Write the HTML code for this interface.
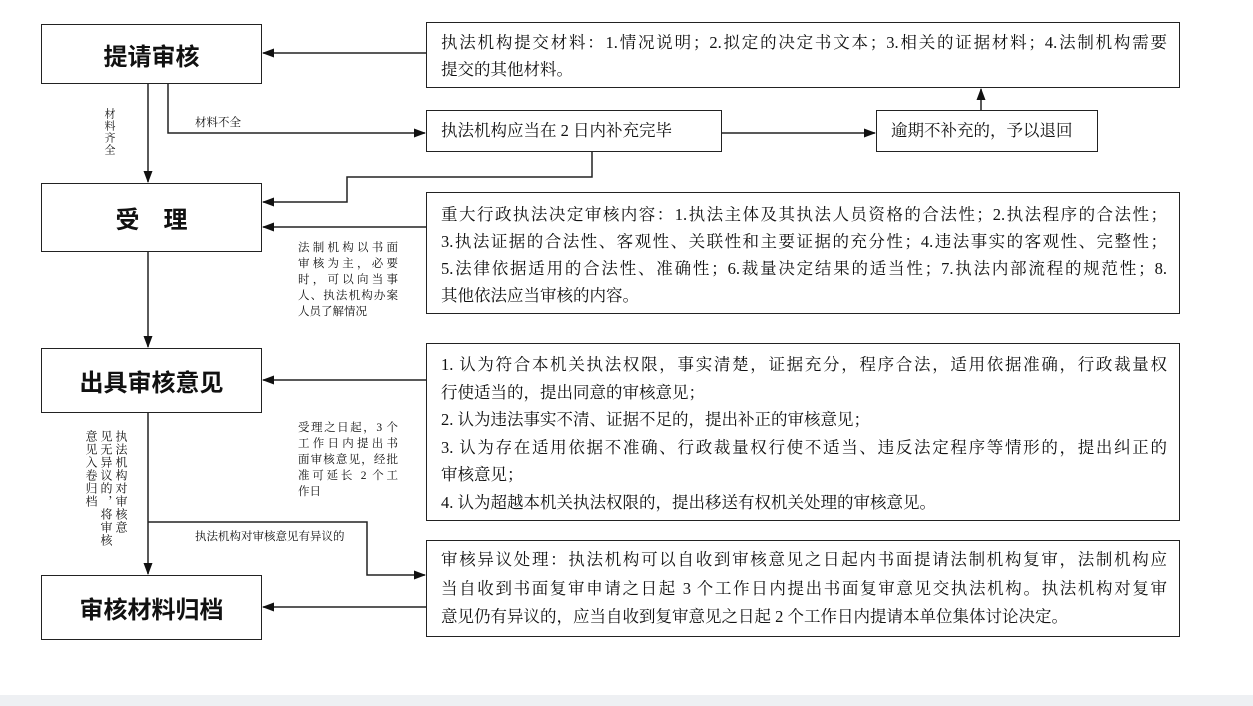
<!DOCTYPE html>
<html><head><meta charset="utf-8"><style>
body{margin:0;width:1253px;height:706px;background:#fff;position:relative;overflow:hidden;font-family:"Liberation Serif","Noto Serif CJK SC",serif;color:#111}
.b{position:absolute;border:1.5px solid #222;box-sizing:border-box;background:#fff}
.big{display:flex;align-items:center;justify-content:center;font-family:"Liberation Sans","Noto Sans CJK SC",sans-serif;font-weight:bold;font-size:24px}
.t{font-size:16.5px;line-height:27px;padding:6px 12px 4px 14px}
.t div{white-space:nowrap;text-align:justify;text-align-last:justify}
.t div.l{text-align-last:left}
.s{position:absolute;font-size:11.5px;line-height:16px}
.s div{text-align:justify;text-align-last:justify;white-space:nowrap}
.s div.l{text-align-last:left}
.v{position:absolute;font-size:12px;writing-mode:vertical-rl;line-height:15px;letter-spacing:1px;white-space:nowrap}
svg{position:absolute;left:0;top:0}
</style></head><body>
<div style="position:absolute;left:0;top:695px;width:1253px;height:11px;background:#eef0f3"></div>
<svg width="1253" height="706">
<defs><marker id="a" markerWidth="12" markerHeight="9" refX="11" refY="4.5" orient="auto" markerUnits="userSpaceOnUse"><path d="M0,0L12,4.5L0,9z" fill="#111"/></marker></defs>
<g stroke="#222" stroke-width="1.5" fill="none">
<line x1="148" y1="84" x2="148" y2="182" marker-end="url(#a)"/>
<line x1="148" y1="252" x2="148" y2="347" marker-end="url(#a)"/>
<line x1="148" y1="413" x2="148" y2="574" marker-end="url(#a)"/>
<polyline points="168,84 168,133 425,133" marker-end="url(#a)"/>
<line x1="722" y1="133" x2="875" y2="133" marker-end="url(#a)"/>
<line x1="981" y1="110" x2="981" y2="89" marker-end="url(#a)"/>
<polyline points="592,152 592,177 347,177 347,202 263,202" marker-end="url(#a)"/>
<line x1="426" y1="53" x2="263" y2="53" marker-end="url(#a)"/>
<line x1="426" y1="227" x2="263" y2="227" marker-end="url(#a)"/>
<line x1="426" y1="380" x2="263" y2="380" marker-end="url(#a)"/>
<line x1="426" y1="607" x2="263" y2="607" marker-end="url(#a)"/>
<polyline points="148,522 367,522 367,575 425,575" marker-end="url(#a)"/>
</g></svg>
<div class="b big" style="left:41px;top:24px;width:221px;height:60px">提请审核</div>
<div class="b big" style="left:41px;top:183px;width:221px;height:69px">受　理</div>
<div class="b big" style="left:41px;top:348px;width:221px;height:65px">出具审核意见</div>
<div class="b big" style="left:41px;top:575px;width:221px;height:65px">审核材料归档</div>
<div class="b t" style="left:426px;top:22px;width:754px;height:66px;padding-top:6px"><div>执法机构提交材料：1.情况说明；2.拟定的决定书文本；3.相关的证据材料；4.法制机构需要</div><div class="l">提交的其他材料。</div></div>
<div class="b t" style="left:426px;top:110px;width:296px;height:42px;padding-top:6px"><div class="l">执法机构应当在 2 日内补充完毕</div></div>
<div class="b t" style="left:876px;top:110px;width:222px;height:42px;padding-top:6px"><div class="l">逾期不补充的，予以退回</div></div>
<div class="b t" style="left:426px;top:192px;width:754px;height:122px;padding-top:8px"><div>重大行政执法决定审核内容：1.执法主体及其执法人员资格的合法性；2.执法程序的合法性；</div><div>3.执法证据的合法性、客观性、关联性和主要证据的充分性；4.违法事实的客观性、完整性；</div><div>5.法律依据适用的合法性、准确性；6.裁量决定结果的适当性；7.执法内部流程的规范性；8.</div><div class="l">其他依法应当审核的内容。</div></div>
<div class="b t" style="left:426px;top:343px;width:754px;height:178px;line-height:27.5px;padding-top:7px"><div>1. 认为符合本机关执法权限，事实清楚，证据充分，程序合法，适用依据准确，行政裁量权</div><div class="l">行使适当的，提出同意的审核意见；</div><div class="l">2. 认为违法事实不清、证据不足的，提出补正的审核意见；</div><div>3. 认为存在适用依据不准确、行政裁量权行使不适当、违反法定程序等情形的，提出纠正的</div><div class="l">审核意见；</div><div class="l">4. 认为超越本机关执法权限的，提出移送有权机关处理的审核意见。</div></div>
<div class="b t" style="left:426px;top:540px;width:754px;height:97px;line-height:28.5px;padding-top:5px"><div>审核异议处理：执法机构可以自收到审核意见之日起内书面提请法制机构复审，法制机构应</div><div>当自收到书面复审申请之日起 3 个工作日内提出书面复审意见交执法机构。执法机构对复审</div><div class="l">意见仍有异议的，应当自收到复审意见之日起 2 个工作日内提请本单位集体讨论决定。</div></div>
<div class="v" style="left:101px;top:108px;font-size:11px">材料齐全</div>
<div class="s" style="left:195px;top:115px">材料不全</div>
<div class="s" style="left:298px;top:240px;width:100px"><div>法制机构以书面</div><div>审核为主，必要</div><div>时，可以向当事</div><div>人、执法机构办案</div><div class="l">人员了解情况</div></div>
<div class="s" style="left:298px;top:420px;width:100px"><div>受理之日起，3 个</div><div>工作日内提出书</div><div>面审核意见，经批</div><div>准可延长 2 个工</div><div class="l">作日</div></div>
<div class="v" style="left:83px;top:430px">执法机构对审核意<br>见无异议的，将审核<br>意见入卷归档</div>
<div class="s" style="left:195px;top:529px">执法机构对审核意见有异议的</div>
</body></html>
